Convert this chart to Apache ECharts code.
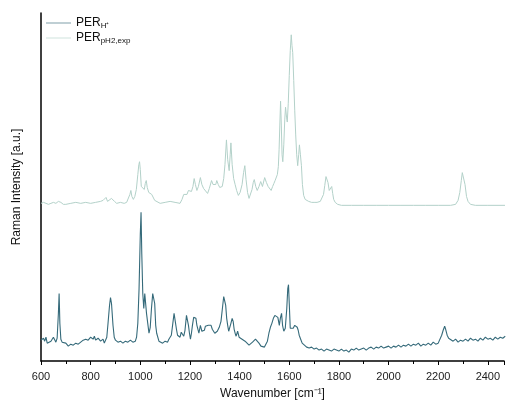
<!DOCTYPE html>
<html>
<head>
<meta charset="utf-8">
<script src="https://cdn.jsdelivr.net/npm/echarts@6/dist/echarts.min.js"></script>
<style>
  html, body { margin: 0; padding: 0; background: #fff; }
  #chart { width: 507px; height: 405px; }
</style>
</head>
<body>
<div id="chart"></div>
<script>
// PER_H+ (lower trace) – wavenumber / intensity
const waveH = [600,605,610,615,620,625,630,640,645,650,655,660,665,670,673,676,680,685,690,700,710,720,730,740,750,760,770,780,790,800,810,815,820,830,840,850,855,860,865,870,876,880,884,890,895,900,910,920,930,940,950,960,970,980,985,990,995,1000,1003,1006,1010,1014,1018,1021,1025,1030,1035,1040,1045,1050,1054,1058,1062,1066,1070,1075,1080,1090,1100,1110,1115,1120,1125,1130,1136,1140,1145,1150,1155,1160,1165,1170,1175,1180,1186,1190,1194,1198,1202,1206,1210,1215,1220,1224,1228,1232,1236,1242,1248,1252,1258,1262,1268,1274,1280,1285,1290,1295,1300,1305,1310,1318,1325,1332,1336,1340,1344,1348,1352,1356,1360,1365,1370,1374,1378,1382,1386,1392,1398,1404,1410,1416,1422,1430,1438,1446,1452,1458,1464,1470,1478,1486,1494,1500,1506,1512,1518,1524,1530,1536,1542,1548,1554,1560,1564,1569,1573,1578,1584,1590,1594,1597,1600,1604,1610,1616,1622,1628,1632,1636,1640,1646,1652,1660,1670,1680,1690,1700,1710,1720,1730,1740,1750,1760,1770,1780,1790,1800,1810,1820,1830,1840,1850,1860,1870,1880,1890,1900,1910,1920,1930,1940,1950,1960,1970,1980,1990,2000,2010,2020,2030,2040,2050,2060,2070,2080,2090,2100,2110,2120,2130,2140,2150,2160,2170,2180,2190,2200,2208,2214,2220,2226,2230,2236,2242,2250,2260,2270,2280,2290,2300,2310,2320,2330,2340,2350,2360,2370,2380,2390,2400,2410,2420,2430,2440,2450,2460,2470];
const intensityH = [23,21,25,22,26,20,19,22,20,26,24,21,25,50,70,40,24,21,19,20,17,19,18,20,19,21,23,24,23,26,24,27,23,25,22,24,20,22,26,40,58,66,60,38,26,23,21,22,20,22,21,23,21,22,26,40,75,130,152,110,70,55,70,71,50,40,30,36,55,70,72,60,38,30,28,22,23,20,22,21,24,22,28,38,50,48,35,28,30,26,31,29,27,33,48,50,38,30,24,30,38,46,46,45,38,36,30,38,32,34,33,37,35,38,36,38,34,33,30,28,32,36,42,58,67,68,58,45,38,32,30,40,45,42,34,30,27,32,26,28,24,26,22,20,18,20,21,23,24,22,20,17,18,16,17,22,30,36,40,45,48,50,46,38,45,50,38,32,35,55,75,79,60,35,33,35,38,40,36,33,28,24,20,18,16,15,16,14,15,13,14,12,14,13,12,14,13,12,14,12,13,11,14,13,15,13,14,15,13,15,16,14,16,15,17,15,16,17,15,17,16,18,16,18,17,19,17,19,18,20,17,19,18,20,18,21,19,20,22,28,33,37,34,28,25,23,22,24,21,23,22,24,22,25,23,24,22,25,23,26,24,25,23,26,24,26,25,27];

// PER_pH2,exp (upper trace)
const waveExp = [600,610,620,630,640,650,660,670,680,690,700,720,740,760,780,800,820,840,850,856,862,868,876,884,890,896,905,920,935,945,952,958,962,966,972,978,984,990,994,997,1000,1004,1010,1016,1020,1024,1028,1034,1040,1046,1052,1058,1066,1080,1100,1120,1140,1160,1168,1175,1182,1188,1194,1200,1206,1212,1217,1222,1228,1234,1242,1248,1255,1262,1271,1278,1287,1293,1298,1304,1308,1314,1320,1325,1330,1336,1341,1347,1352,1358,1362,1365,1370,1376,1382,1388,1395,1402,1410,1416,1421,1426,1432,1438,1444,1450,1455,1459,1465,1471,1478,1485,1492,1501,1508,1515,1521,1527,1533,1538,1543,1547,1552,1556,1559,1562,1565,1568,1571,1574,1578,1582,1585,1589,1592,1596,1600,1604,1608,1611,1614,1618,1622,1626,1630,1634,1638,1641,1645,1649,1653,1658,1664,1670,1678,1690,1700,1712,1725,1732,1738,1743,1748,1752,1756,1761,1766,1771,1775,1779,1785,1795,1810,1850,1900,1950,2000,2050,2100,2150,2200,2250,2270,2280,2287,2293,2297,2300,2303,2308,2314,2320,2330,2350,2400,2470];
const intensityExp = [161,162,161,160,161,162,161,163,162,160,160,161,162,161,162,161,162,163,164,165,167,163,163,166,167,163,161,162,161,162,164,170,174,168,165,168,175,190,200,203,195,178,176,175,181,184,177,172,173,170,168,164,162,161,162,163,162,161,165,170,172,170,174,176,173,178,186,180,174,178,187,180,176,174,171,176,184,180,178,180,184,180,177,176,178,186,200,225,205,194,210,222,200,186,180,174,169,172,180,192,199,185,172,166,168,175,182,185,178,174,178,183,178,187,182,178,176,174,178,181,184,186,190,198,215,240,264,240,210,203,220,246,258,248,243,262,290,315,331,320,313,285,255,230,210,199,210,220,210,199,180,169,165,164,163,162,162,162,163,165,170,179,188,190,182,174,176,178,171,165,162,160,159,159,159,159,159,159,159,159,159,159,160,164,172,184,192,193,190,180,168,163,160,159,159,159];

const xTicks = [600, 800, 1000, 1200, 1400, 1600, 1800, 2000, 2200, 2400];

const pairs = (xs, ys) => xs.map((x, i) => [x, ys[i]]);

const chart = echarts.init(document.getElementById('chart'));
const font = 'Liberation Sans, Arial, sans-serif';

chart.setOption({
  animation: false,
  backgroundColor: '#fff',
  textStyle: { fontFamily: font },
  grid: { left: 41, right: 0, top: 13, bottom: 41 },
  legend: {
    left: 46,
    top: 17,
    padding: 0,
    orient: 'vertical',
    icon: 'rect',
    itemWidth: 25,
    itemHeight: 1,
    itemGap: 2,
    textStyle: {
      fontFamily: font,
      color: '#111',
      rich: {
        a: { fontSize: 12, lineHeight: 14, color: '#111', fontFamily: font },
        b: { fontSize: 8, lineHeight: 6, color: '#111', fontFamily: font, verticalAlign: 'bottom' }
      }
    },
    formatter: function (name) {
      return name === 'H' ? '{a|PER}{b|H⁺}' : '{a|PER}{b|pH2,exp}';
    }
  },
  xAxis: {
    type: 'value',
    min: 600,
    max: 2465,
    interval: 200,
    name: 'Wavenumber [cm⁻¹]',
    nameLocation: 'middle',
    nameGap: 27,
    nameTextStyle: { fontSize: 12, color: '#111', fontFamily: font },
    axisLine: { show: true, onZero: false, lineStyle: { color: '#000', width: 1.5 } },
    axisTick: { show: true, length: 4, lineStyle: { color: '#000', width: 1 } },
    minorTick: { show: true, splitNumber: 2, length: 3, lineStyle: { color: '#000', width: 1 } },
    splitLine: { show: false },
    axisLabel: {
      fontSize: 11,
      color: '#222',
      margin: 10,
      formatter: v => (xTicks.includes(v) ? String(v) : '')
    }
  },
  yAxis: {
    type: 'value',
    min: 2,
    max: 353,
    name: 'Raman Intensity [a.u.]',
    nameLocation: 'middle',
    nameGap: 18,
    nameTextStyle: { fontSize: 12, color: '#111', fontFamily: font },
    axisLine: { show: true, lineStyle: { color: '#000', width: 1.5 } },
    axisTick: { show: false },
    axisLabel: { show: false },
    splitLine: { show: false }
  },
  series: [
    {
      name: 'H',
      type: 'line',
      data: pairs(waveH, intensityH),
      showSymbol: false,
      symbol: 'none',
      lineStyle: { color: '#356a7a', width: 1.1 },
      itemStyle: { color: '#7f9fa8' }
    },
    {
      name: 'exp',
      type: 'line',
      data: pairs(waveExp, intensityExp),
      showSymbol: false,
      symbol: 'none',
      lineStyle: { color: '#b3d1c9', width: 1 },
      itemStyle: { color: '#cfe2dc' }
    }
  ]
});
</script>
</body>
</html>
